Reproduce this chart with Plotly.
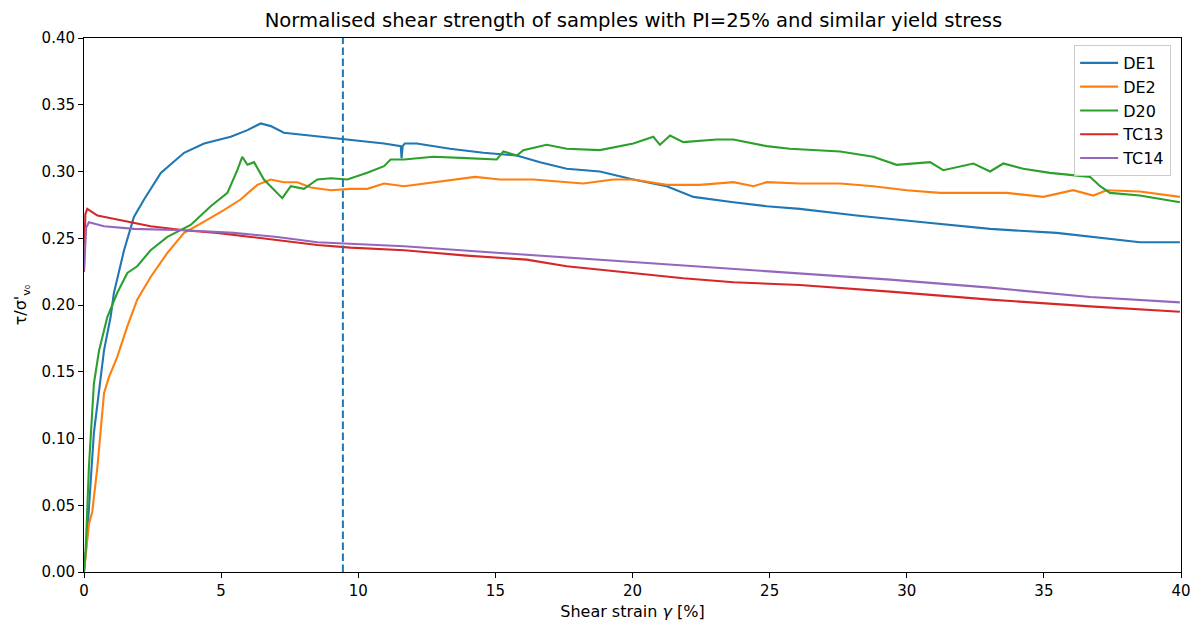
import plotly.graph_objects as go

# ---- data ----
de1_x = [0.0, 0.12, 0.36, 0.73, 0.97, 1.09, 1.46, 1.58, 1.82, 2.19, 2.80, 3.65, 4.38, 5.35, 5.96, 6.44, 6.81, 7.29,
         8.27, 9.48, 10.94, 11.55, 11.58, 11.62, 11.70, 12.13, 13.35, 14.56, 15.78, 16.63, 17.6, 18.81, 20.03, 21.25,
         22.22, 23.68, 24.89, 26.1, 28.17, 30.6, 33.04, 35.47, 37.29, 38.5, 39.96]
de1_y = [0.0, 0.029, 0.104, 0.166, 0.191, 0.209, 0.241, 0.249, 0.266, 0.279, 0.299, 0.314, 0.321, 0.326, 0.331, 0.336,
         0.334, 0.329, 0.327, 0.324, 0.321, 0.319, 0.310, 0.319, 0.321, 0.321, 0.317, 0.314, 0.312, 0.307, 0.302, 0.300,
         0.294, 0.289, 0.281, 0.277, 0.274, 0.272, 0.267, 0.262, 0.257, 0.254, 0.250, 0.247, 0.247]

de2_x = [0.0, 0.06, 0.18, 0.30, 0.49, 0.73, 0.91, 1.21, 1.58, 1.94, 2.43, 3.04, 3.65, 4.25, 5.1, 5.71, 6.32, 6.81, 7.29,
         7.78, 8.27, 9.0, 9.72, 10.33, 10.94, 11.67, 12.74, 14.26, 15.17, 16.38, 18.2, 19.3, 20.03, 21.25, 22.46, 23.68,
         24.41, 24.89, 26.1, 27.57, 28.78, 30.0, 31.21, 32.43, 33.64, 34.98, 36.07, 36.8, 37.29, 38.5, 39.96]
de2_y = [0.0, 0.011, 0.036, 0.045, 0.079, 0.134, 0.146, 0.161, 0.184, 0.204, 0.221, 0.239, 0.254, 0.261, 0.271, 0.279,
         0.290, 0.294, 0.292, 0.292, 0.288, 0.286, 0.287, 0.287, 0.291, 0.289, 0.292, 0.296, 0.294, 0.294, 0.291, 0.294,
         0.294, 0.290, 0.290, 0.292, 0.289, 0.292, 0.291, 0.291, 0.289, 0.286, 0.284, 0.284, 0.284, 0.281, 0.286, 0.282,
         0.286, 0.285, 0.281]

d20_x = [0.0, 0.06, 0.18, 0.36, 0.55, 0.85, 1.21, 1.58, 1.94, 2.43, 3.04, 3.89, 4.62, 5.23, 5.59, 5.77, 5.96, 6.2, 6.56,
         6.93, 7.23, 7.54, 8.02, 8.51, 9.0, 9.6, 10.33, 10.94, 11.18, 11.67, 12.74, 13.95, 15.05, 15.29, 15.78, 16.02,
         16.87, 17.6, 18.81, 20.03, 20.76, 21.0, 21.37, 21.85, 23.07, 23.68, 24.89, 25.74, 27.57, 28.78, 29.63, 30.85,
         31.33, 32.43, 33.04, 33.52, 34.25, 35.22, 36.68, 37.05, 37.41, 38.5, 39.96]
d20_y = [0.0, 0.016, 0.079, 0.141, 0.166, 0.191, 0.209, 0.224, 0.229, 0.241, 0.251, 0.260, 0.274, 0.284, 0.301, 0.311,
         0.305, 0.307, 0.294, 0.286, 0.280, 0.289, 0.287, 0.294, 0.295, 0.294, 0.299, 0.304, 0.309, 0.309, 0.311, 0.310,
         0.309, 0.315, 0.312, 0.316, 0.320, 0.317, 0.316, 0.321, 0.326, 0.320, 0.327, 0.322, 0.324, 0.324, 0.319, 0.317,
         0.315, 0.311, 0.305, 0.307, 0.301, 0.306, 0.300, 0.306, 0.302, 0.299, 0.296, 0.289, 0.284, 0.282, 0.277]

tc13_x = [0.0, 0.05, 0.12, 0.49, 1.21, 2.43, 3.65, 4.86, 6.08, 7.29, 8.51, 9.72, 11.67, 13.95, 16.14, 17.6, 20.03,
          21.85, 23.68, 26.1, 29.39, 33.04, 36.68, 39.96]
tc13_y = [0.225, 0.268, 0.272, 0.267, 0.264, 0.259, 0.256, 0.254, 0.251, 0.248, 0.245, 0.243, 0.241, 0.237, 0.234,
          0.229, 0.224, 0.220, 0.217, 0.215, 0.210, 0.204, 0.199, 0.195]

tc14_x = [0.0, 0.08, 0.18, 0.73, 1.82, 3.65, 5.47, 7.05, 8.51, 9.72, 11.67, 15.17, 18.81, 22.46, 26.1, 29.39, 33.04,
          36.68, 39.96]
tc14_y = [0.226, 0.258, 0.262, 0.259, 0.257, 0.256, 0.254, 0.251, 0.247, 0.246, 0.244, 0.239, 0.234, 0.229, 0.224,
          0.219, 0.213, 0.206, 0.202]

marker_strain = 9.44

series_names = ["DE1", "DE2", "D20", "TC13", "TC14"]
series_x = [de1_x, de2_x, d20_x, tc13_x, tc14_x]
series_y = [de1_y, de2_y, d20_y, tc13_y, tc14_y]
colors = ["#1f77b4", "#ff7f0e", "#2ca02c", "#d62728", "#9467bd"]

x_ticks = [0, 5, 10, 15, 20, 25, 30, 35, 40]
y_ticks = [0.0, 0.05, 0.10, 0.15, 0.20, 0.25, 0.30, 0.35, 0.40]

FONT = "DejaVu Sans"

fig = go.Figure()
for name, xs, ys, c in zip(series_names, series_x, series_y, colors):
    fig.add_trace(go.Scatter(x=xs, y=ys, mode="lines", name=name,
                             line=dict(color=c, width=2.1)))

fig.add_shape(type="line", xref="x", yref="paper", x0=marker_strain, x1=marker_strain, y0=0, y1=1,
              line=dict(color="#1f77b4", width=2, dash="7.5px,3.5px"))

axis_common = dict(showline=True, linecolor="black", linewidth=1, mirror=True, ticks="outside",
                   ticklen=5, tickwidth=1, tickcolor="black", showgrid=False, zeroline=False,
                   automargin=False,
                   tickfont=dict(family=FONT, size=15, color="black"))

fig.update_layout(
    width=1193, height=621,
    margin=dict(l=84, r=12, t=38, b=49),
    paper_bgcolor="white", plot_bgcolor="white",
    font=dict(family=FONT, size=15, color="black"),
    title=dict(text="Normalised shear strength of samples with PI=25% and similar yield stress",
               x=0.531, xanchor="center", y=0.968, yanchor="middle",
               font=dict(family=FONT, size=19.6, color="black")),
    xaxis=dict(range=[0, 40], tickvals=x_ticks, ticktext=[str(v) for v in x_ticks],
               title=dict(text="Shear strain <i>γ</i> [%]", font=dict(family=FONT, size=16), standoff=6),
               **axis_common),
    yaxis=dict(range=[0, 0.40], tickvals=y_ticks, ticktext=[f"{v:.2f}" for v in y_ticks],
               title=dict(text="τ/σ'<sub>v₀</sub>", font=dict(family=FONT, size=16), standoff=10),
               **axis_common),
    legend=dict(x=0.991, xanchor="right", y=0.987, yanchor="top",
                bgcolor="rgba(255,255,255,0.8)", bordercolor="#cccccc", borderwidth=1,
                font=dict(family=FONT, size=16, color="black"), tracegroupgap=0,
                itemwidth=38),
    showlegend=True,
)

fig.write_html("out.html")
